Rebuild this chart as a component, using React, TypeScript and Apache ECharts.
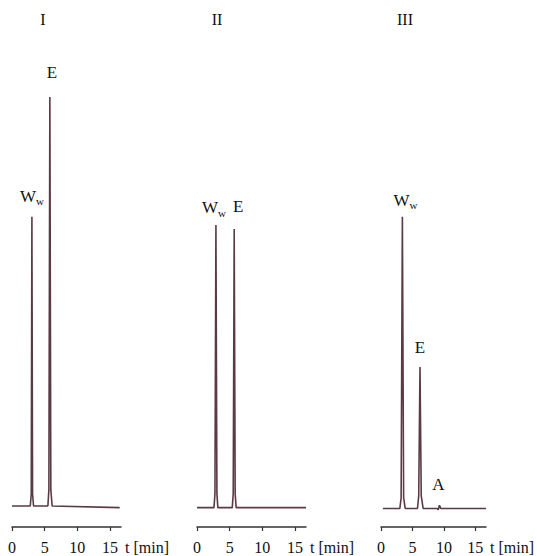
import React, { useEffect, useRef } from "react";
import * as echarts from "echarts";

// Panel titles
const panelTitles = ["I", "II", "III"];

// Tick labels of the time axis (min)
const tickValues = [0, 5, 10, 15];
const axisName = "t [min]";

// Chromatogram traces: [time (min), relative signal]
const traceI: [number, number][] = [
  [0, 0], [2.8, 0], [2.95, 3], [3.05, 70.7], [3.15, 3], [3.3, 0],
  [5.5, 0], [5.65, 4], [5.8, 100], [5.95, 4], [6.15, 0], [16.5, -0.4],
];
const traceII: [number, number][] = [
  [0, -0.4], [2.6, -0.4], [2.75, 3], [2.9, 68.7], [3.05, 3], [3.2, -0.4],
  [5.4, -0.4], [5.55, 3], [5.7, 67.7], [5.85, 3], [6.0, -0.4], [16.7, -0.4],
];
const traceIII: [number, number][] = [
  [0.3, -0.6], [3.0, -0.6], [3.2, 2], [3.4, 70.7], [3.6, 2], [3.85, -0.6],
  [5.8, -0.6], [6.0, 2.5], [6.2, 34.0], [6.4, 2.5], [6.7, -0.6],
  [8.9, -0.6], [9.1, -0.9], [9.3, 0.2], [9.5, -0.6], [16.7, -0.6],
];

// Peak labels: [name, time, height]
const peaksI: [string, number, number][] = [["Ww", 3.05, 70.7], ["E", 5.8, 100]];
const peaksII: [string, number, number][] = [["Ww", 2.9, 68.7], ["E", 5.7, 67.7]];
const peaksIII: [string, number, number][] = [["Ww", 3.4, 70.7], ["E", 6.2, 34.0], ["A", 9.3, 0.2]];

// Label offsets (px) relative to peak apex — styling only
const labelOffsets = [
  [[0, -20], [2, -24]],
  [[-2, -17], [4, -22]],
  [[3, -16], [0, -19], [-1, -20]],
];

const traces = [traceI, traceII, traceIII];
const peaks = [peaksI, peaksII, peaksIII];

const gridLefts = [12, 197, 381];
const titleX = [43, 217, 405];
const FONT = "'Liberation Serif', 'Times New Roman', serif";
const LINE_COLOR = "#5a3a46";

export default function App() {
  const ref = useRef<HTMLDivElement>(null);
  useEffect(() => {
    if (!ref.current) return;
    const chart = echarts.init(ref.current, undefined, { renderer: "svg" });
    const grids = gridLefts.map((l) => ({ left: l, width: 109, top: 97, bottom: 29 }));
    const xAxes = gridLefts.map((_, i) => ({
      type: "value",
      gridIndex: i,
      min: 0,
      max: 16.7,
      interval: 5,
      splitLine: { show: false },
      axisLine: { show: true, onZero: false, lineStyle: { color: "#333", width: 1.5 } },
      axisTick: { show: true, length: 4, customValues: tickValues, lineStyle: { color: "#333", width: 1.2 } },
      axisLabel: {
        customValues: tickValues,
        margin: 12,
        color: "#111",
        fontFamily: FONT,
        fontSize: 16,
      },
      name: axisName,
      nameLocation: "end",
      nameGap: 4,
      nameTextStyle: {
        color: "#111",
        fontFamily: FONT,
        fontSize: 16,
        align: "left",
        verticalAlign: "top",
        padding: [12, 0, 0, 0],
      },
    }));
    const yAxes = gridLefts.map((_, i) => ({
      type: "value",
      gridIndex: i,
      min: -5.13,
      max: 100,
      show: false,
    }));
    const series = traces.map((tr, i) => ({
      type: "line",
      xAxisIndex: i,
      yAxisIndex: i,
      data: tr,
      showSymbol: false,
      symbol: "none",
      lineStyle: { color: LINE_COLOR, width: 1.6 },
      silent: true,
      markPoint: {
        symbol: "circle",
        symbolSize: 0,
        silent: true,
        data: peaks[i].map(([name, t, h], j) => ({
          coord: [t, h],
          label: {
            show: true,
            position: "inside",
            offset: labelOffsets[i][j],
            formatter: name === "Ww" ? "{m|W}{s|w}" : `{m|${name}}`,
            rich: {
              m: { fontFamily: FONT, fontSize: 17, color: "#111", lineHeight: 18, verticalAlign: "top" },
              s: { fontFamily: FONT, fontSize: 11, color: "#111", lineHeight: 11, verticalAlign: "top", padding: [8, 0, 0, 0] },
            },
          },
        })),
      },
    }));
    chart.setOption({
      animation: false,
      backgroundColor: "#fff",
      grid: grids,
      xAxis: xAxes,
      yAxis: yAxes,
      series,
      graphic: panelTitles.map((t, i) => ({
        type: "text",
        x: titleX[i],
        y: 19,
        style: {
          text: t,
          align: "center",
          verticalAlign: "middle",
          font: `16px ${FONT}`,
          fill: "#111",
        },
      })),
    });
    return () => chart.dispose();
  }, []);
  return (
    <div
      ref={ref}
      style={{ position: "fixed", left: 0, top: 0, width: 537, height: 556 }}
    />
  );
}
